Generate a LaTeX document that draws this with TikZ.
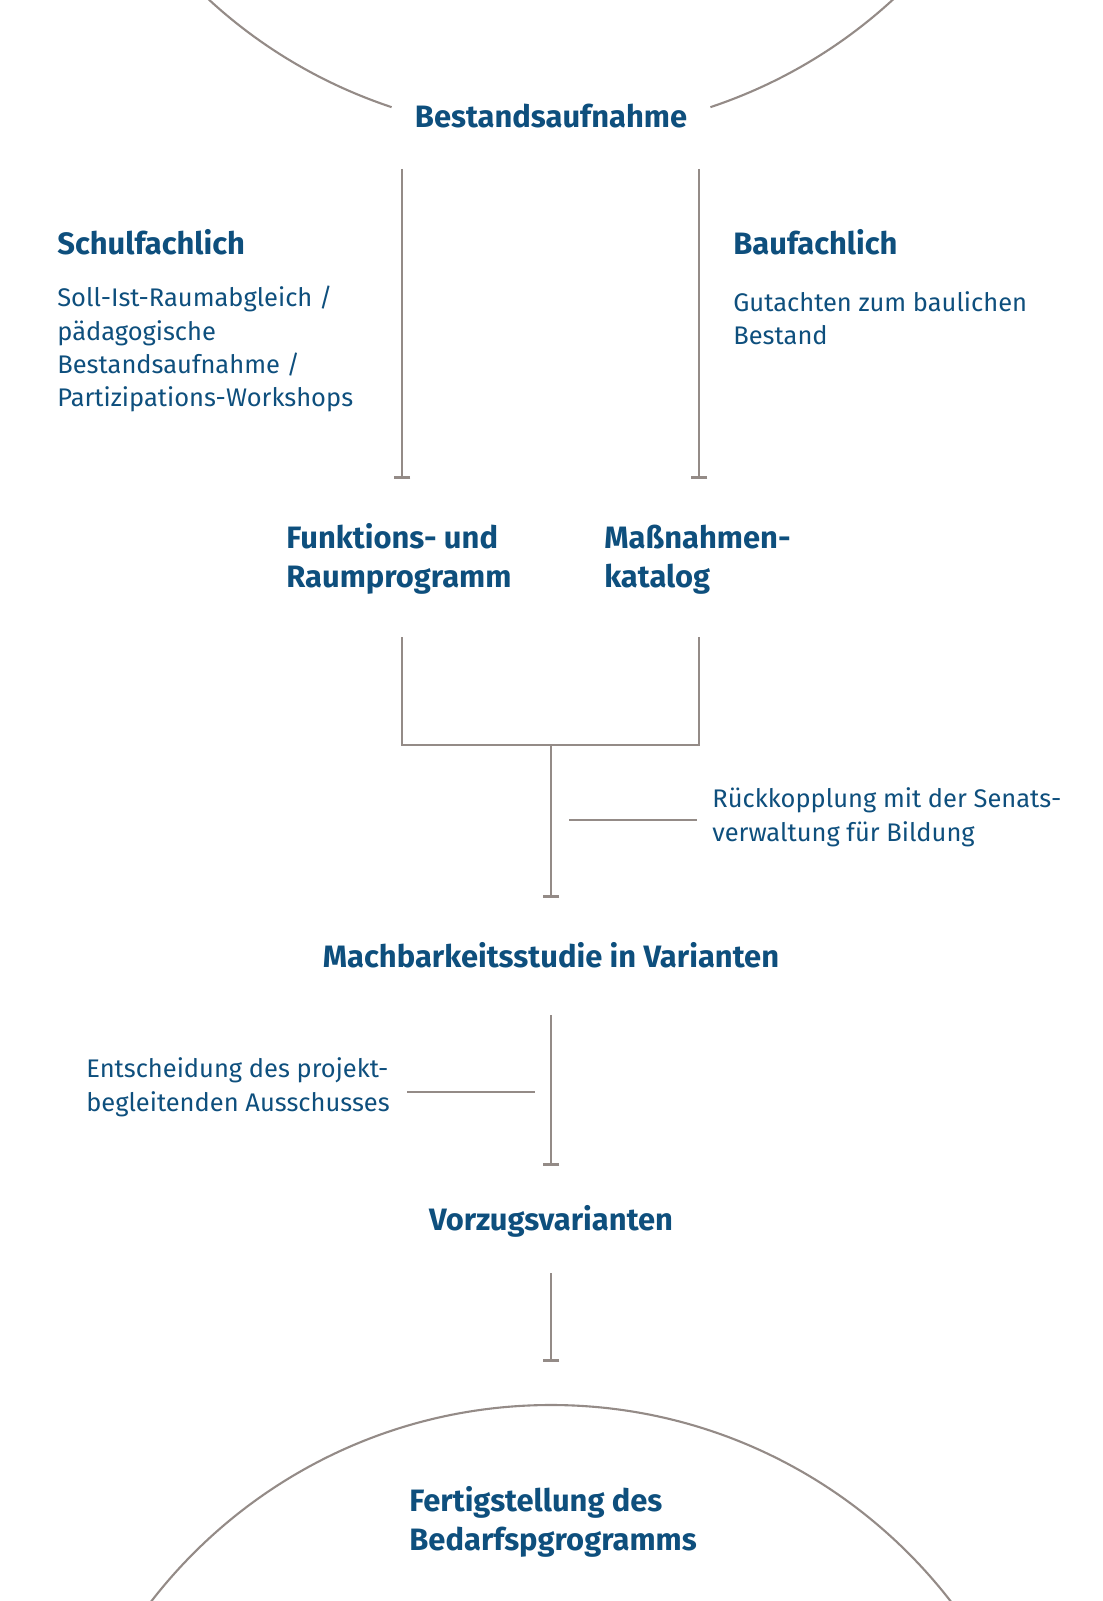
\documentclass[tikz,border=0pt]{standalone}
\usepackage{fontspec}
\setmainfont{Fira Sans}
\usetikzlibrary{arrows.meta}
\definecolor{planblue}{HTML}{0E4F7D}
\definecolor{planline}{HTML}{948B87}

\tikzset{
  stage/.style={text=planblue, inner sep=0pt, align=left,
    font=\fontsize{17.6}{22}\selectfont\bfseries},
  remark/.style={text=planblue, inner sep=0pt, align=left,
    font=\fontsize{14.5}{19}\selectfont},
  flow/.style={draw=planline, line width=1.6pt,
    -{Bar[width=9.6pt,line width=1.6pt]}},
  plain/.style={draw=planline, line width=1.6pt},
  aside/.style={draw=planline, line width=1.1pt},
  rim/.style={draw=planline, line width=1.2pt}
}

\begin{document}
\begin{tikzpicture}[x=0.02cm, y=-0.02cm]
  \useasboundingbox (0,0) rectangle (1102,1601);
  \clip (0,0) rectangle (1102,1601);

  % circles at top and bottom
  \draw[rim] (551,-372) ++(108.4:505) arc[start angle=108.4, end angle=431.6, radius=505];
  \draw[rim] (551,1910) circle[radius=505];

  % stages (multi-line nodes sit on their last baseline)
  \node[stage, anchor=base] (bestand) at (551,128) {Bestandsaufnahme};
  \node[stage, anchor=base west] (schul) at (57,255) {Schulfachlich};
  \node[stage, anchor=base west] (bau) at (733,255) {Baufachlich};
  \node[stage, anchor=base west] (funktion) at (286,587) {Funktions- und\\Raumprogramm};
  \node[stage, anchor=base west] (katalog) at (604,587) {Maßnahmen-\\katalog};
  \node[stage, anchor=base] (studie) at (551,967) {Machbarkeitsstudie in Varianten};
  \node[stage, anchor=base] (vorzug) at (551,1230) {Vorzugsvarianten};
  \node[stage, anchor=base west] (fertig) at (409,1550) {Fertigstellung des\\Bedarfspgrogramms};

  % remarks
  \node[remark, anchor=base west] (schulnote) at (57,407)
    {Soll-Ist-Raumabgleich /\\pädagogische\\Bestandsaufnahme /\\Partizipations-Workshops};
  \node[remark, anchor=base west] (baunote) at (733,345) {Gutachten zum baulichen\\Bestand};
  \node[remark, anchor=base west] (senat) at (712,841) {Rückkopplung mit der Senats-\\verwaltung für Bildung};
  \node[remark, anchor=base west] (ausschuss) at (86,1111) {Entscheidung des projekt-\\begleitenden Ausschusses};

  % line ends
  \coordinate (schul top) at (402,169);
  \coordinate (schul end) at (402,479);
  \coordinate (bau top) at (699,169);
  \coordinate (bau end) at (699,479);
  \coordinate (funktion low) at (402,637);
  \coordinate (katalog low) at (699,637);
  \coordinate (join) at (551,745);
  \coordinate (studie end) at (551,898);
  \coordinate (studie low) at (551,1015);
  \coordinate (vorzug end) at (551,1166);
  \coordinate (vorzug low) at (551,1273);
  \coordinate (fertig end) at (551,1362);

  \draw[flow] (schul top) -- (schul end);
  \draw[flow] (bau top) -- (bau end);
  \draw[plain] (funktion low) |- (join) -| (katalog low);
  \draw[flow] (join) -- (studie end);
  \draw[aside] (569,820) -- (697,820);
  \draw[flow] (studie low) -- (vorzug end);
  \draw[aside] (407,1092) -- (535,1092);
  \draw[flow] (vorzug low) -- (fertig end);
\end{tikzpicture}
\end{document}
